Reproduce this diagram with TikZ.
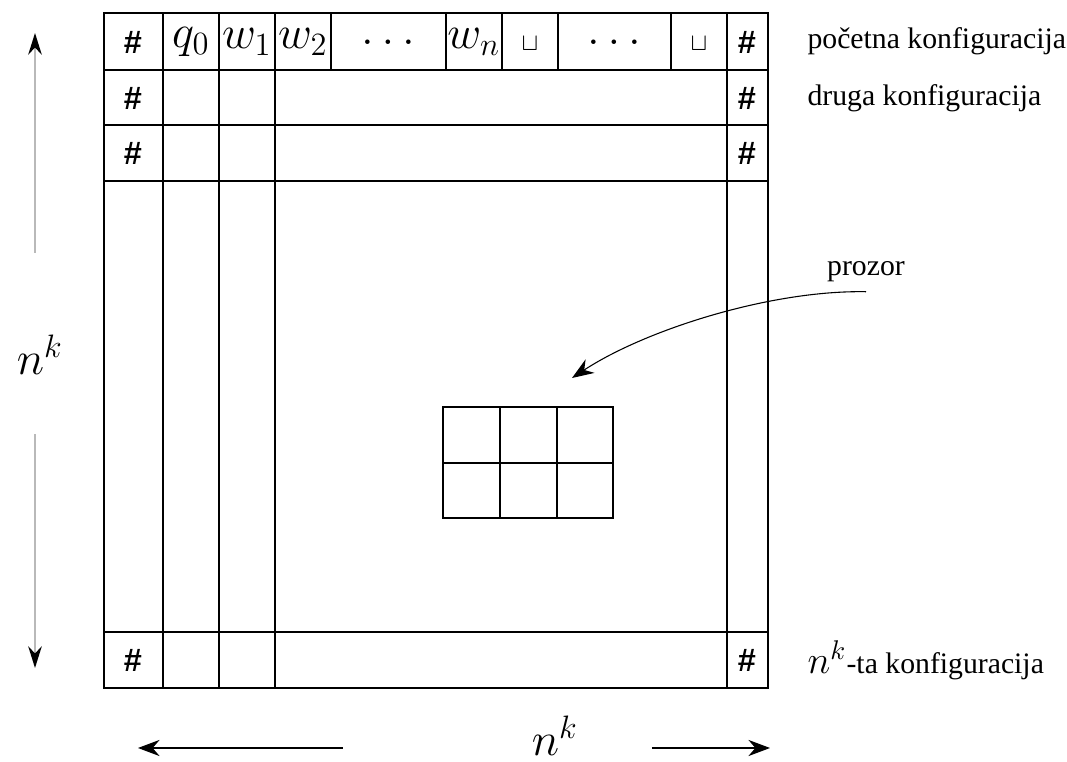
\documentclass[tikz,border=0pt]{standalone}
\usepackage{fontspec}
\setmainfont{Liberation Serif}
\newfontfamily\hashfont{Liberation Sans}
\usetikzlibrary{arrows.meta}

\begin{document}
\begin{tikzpicture}[x=0.013cm, y=-0.013cm,
    hash/.style={font=\hashfont\bfseries\large},
    sym/.style={font=\LARGE},
    blank/.style={font=\small},
    conf/.style={anchor=west, font=\fontsize{11}{13}\selectfont},
    dimlabel/.style={font=\LARGE},
    dimarrow/.style={draw=gray!55, thick, -{Stealth[color=black, length=8pt, width=5pt]}},
    pointer/.style={draw, -{Stealth[length=8pt, width=6pt]}}]

    \useasboundingbox (0,0) rectangle (1067,762);

    % Frame of the table and its rows
    \draw (104,13) rectangle (768,688);
    \foreach \y in {70,125,181,632}
        \draw (104,\y) -- (768,\y);

    % Columns over the whole height
    \foreach \x in {163,219,275,727}
        \draw (\x,13) -- (\x,688);

    % Columns of the first row only
    \foreach \x in {331,446,502,558,671}
        \draw (\x,13) -- (\x,70);

    % Border symbols at both ends of each row
    \foreach \y [count=\i] in {42,98,153,660} {
        \node[hash] (left\i) at (133,\y) {\#};
        \node[hash] (right\i) at (747,\y) {\#};
    }

    % Starting configuration
    \node[sym] (q0) at (191,42) {$q_0$};
    \node[sym] (w1) at (247,42) {$w_1$};
    \node[sym] (w2) at (303,42) {$w_2$};
    \node[sym] (dots1) at (388,42) {$\dots$};
    \node[sym] (wn) at (474,42) {$w_n$};
    \node[blank] (b1) at (530,44) {$\sqcup$};
    \node[sym] (dots2) at (614,42) {$\dots$};
    \node[blank] (b2) at (699,44) {$\sqcup$};

    % Row labels
    \node[conf] (first) at (798,41) {početna konfiguracija};
    \node[conf] (second) at (798,98) {druga konfiguracija};
    \node[conf] (last) at (798,660) {{\Large$n^k$}-ta konfiguracija};

    % Window
    \draw (443,407) rectangle (613,518);
    \draw (443,463) -- (613,463);
    \foreach \x in {500,557}
        \draw (\x,407) -- (\x,518);

    \node[conf, anchor=center] (prozor) at (866,272) {prozor};
    \coordinate (window) at (572,378);
    \draw[pointer] (prozor.south) .. controls (770,290) and (645,330) .. (window);

    % Height and width of the table
    \node[dimlabel] (height) at (40,355) {$n^k$};
    \coordinate (htop) at (35,33);
    \coordinate (hbot) at (35,668);
    \draw[dimarrow, shorten <=0.95cm] (height.north -| htop) -- (htop);
    \draw[dimarrow, shorten <=0.65cm] (height.south -| hbot) -- (hbot);

    \node[dimlabel, inner sep=0pt] (width) at (555,736) {$n^k$};
    \coordinate (wleft) at (138,748);
    \coordinate (wright) at (770,748);
    \draw[pointer, shorten <=2.45cm] (width.west |- wleft) -- (wleft);
    \draw[pointer, shorten <=0.95cm] (width.east |- wright) -- (wright);

\end{tikzpicture}
\end{document}
